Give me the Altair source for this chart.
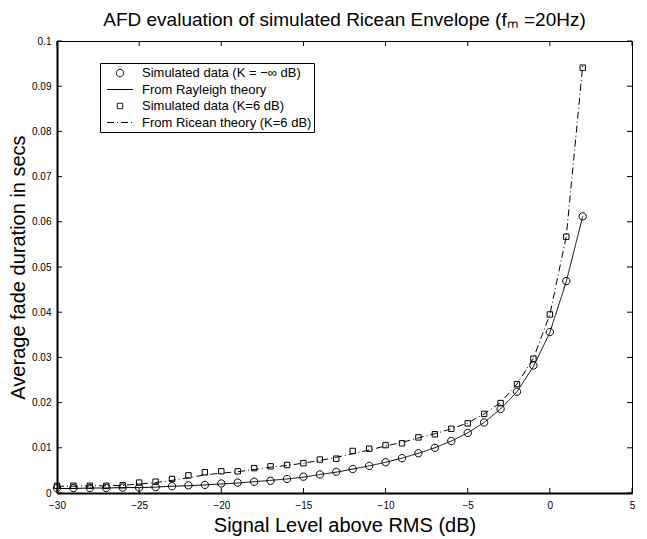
import altair as alt
import pandas as pd

# ---- data ----
levels_db = [-30, -29, -28, -27, -26, -25, -24, -23, -22, -21, -20, -19, -18, -17, -16,
             -15, -14, -13, -12, -11, -10, -9, -8, -7, -6, -5, -4, -3, -2, -1, 0, 1, 2]

sim_rayleigh = [0.0011, 0.0011, 0.0011, 0.0011, 0.0012, 0.0012, 0.0013, 0.0015, 0.0017, 0.0018,
                0.0021, 0.0023, 0.0025, 0.0027, 0.0031, 0.0036, 0.0041, 0.0047, 0.0053, 0.0060,
                0.0068, 0.0077, 0.0088, 0.0100, 0.0115, 0.0133, 0.0156, 0.0186, 0.0224, 0.0282,
                0.0356, 0.0469, 0.0612]

theory_rayleigh = [0.0010, 0.0010, 0.0011, 0.0011, 0.0012, 0.0012, 0.0013, 0.0015, 0.0016, 0.0018,
                   0.0020, 0.0022, 0.0025, 0.0028, 0.0031, 0.0035, 0.0041, 0.0046, 0.0053, 0.0060,
                   0.0068, 0.0077, 0.0088, 0.0100, 0.0115, 0.0133, 0.0156, 0.0186, 0.0224, 0.0280,
                   0.0355, 0.0468, 0.0612]

sim_ricean = [0.0016, 0.0016, 0.0016, 0.0016, 0.0017, 0.0023, 0.0025, 0.0031, 0.0039, 0.0046,
              0.0048, 0.0048, 0.0055, 0.0059, 0.0062, 0.0066, 0.0074, 0.0076, 0.0093, 0.0098,
              0.0106, 0.0110, 0.0123, 0.0130, 0.0142, 0.0154, 0.0175, 0.0199, 0.0241, 0.0297,
              0.0395, 0.0567, 0.0941]

theory_ricean = [0.0015, 0.0015, 0.0016, 0.0016, 0.0017, 0.0020, 0.0023, 0.0028, 0.0034, 0.0040,
                 0.0044, 0.0047, 0.0052, 0.0057, 0.0061, 0.0066, 0.0072, 0.0079, 0.0087, 0.0095,
                 0.0104, 0.0112, 0.0122, 0.0131, 0.0142, 0.0155, 0.0175, 0.0200, 0.0241, 0.0298,
                 0.0395, 0.0568, 0.0945]

series_names = ["Simulated data (K = \u2212\u221e dB)",
                "From Rayleigh theory",
                "Simulated data (K=6 dB)",
                "From Ricean theory (K=6 dB)"]

x_ticks = [-30, -25, -20, -15, -10, -5, 0, 5]
y_ticks = [0, 0.01, 0.02, 0.03, 0.04, 0.05, 0.06, 0.07, 0.08, 0.09, 0.1]

# ---- tables ----
def frame(values, name):
    return pd.DataFrame({"level": levels_db, "afd": values, "series": name})

pts = pd.concat([frame(sim_rayleigh, series_names[0]), frame(sim_ricean, series_names[2])])
lines = pd.concat([frame(theory_rayleigh, series_names[1]), frame(theory_ricean, series_names[3])])
xt = pd.DataFrame({"level": x_ticks})
yt = pd.DataFrame({"afd": y_ticks})

W, H = 575, 452
FONT = "Liberation Sans"
SYM = 225  # symbol size shared by points and legend (unit = 7.5 px)

CIRCLE = "M-0.49,0A0.49,0.49 0 1,0 0.49,0A0.49,0.49 0 1,0 -0.49,0Z"
SQUARE = "M-0.36,-0.36H0.36V0.36H-0.36Z"
LINE = "M-1.73,0H1.73"

xs = alt.Scale(domain=[-30, 5], nice=False, zero=False)
ys = alt.Scale(domain=[0, 0.1], nice=False)

legend = alt.Legend(
    title=None, orient="none", legendX=43, legendY=22,
    fillColor="white", strokeColor="black", padding=2,
    labelFont=FONT, labelFontSize=13, labelColor="black", labelLimit=400,
    rowPadding=1.5, labelOffset=14, symbolOffset=10, symbolSize=SYM,
    symbolStrokeColor="black", symbolStrokeWidth=1, symbolFillColor="transparent",
)

shape_enc = alt.Shape("series:N", scale=alt.Scale(
    domain=series_names, range=[CIRCLE, LINE, SQUARE, LINE]), legend=legend)
dash_enc = alt.StrokeDash("series:N", scale=alt.Scale(
    domain=series_names, range=[[1, 0], [1, 0], [1, 0], [7, 3, 1, 3]]), legend=legend)

ax_x = alt.Axis(values=x_ticks, format="~g", ticks=False, domain=True,
                domainWidth=2, domainColor="black", labelPadding=7, grid=False,
                labelFlush=False,
                title="Signal Level above RMS (dB)", titleFontSize=20,
                titleFontWeight="normal", titleX=W / 2, titleY=32,
                titleBaseline="middle", titleAlign="center")
ax_y = alt.Axis(values=y_ticks, format="~g", ticks=False, domain=True,
                domainWidth=2, domainColor="black", labelPadding=6, grid=False,
                labelFlush=False,
                title="Average fade duration in secs", titleFontSize=20,
                titleFontWeight="normal", titleX=-39, titleY=H / 2,
                titleAngle=270, titleBaseline="middle", titleAlign="center")

X = alt.X("level:Q", scale=xs, axis=ax_x)
Y = alt.Y("afd:Q", scale=ys, axis=ax_y)

theory = alt.Chart(lines).mark_line(color="black", strokeWidth=1, clip=True).encode(
    x=X, y=Y,
    strokeDash=dash_enc,
    detail="series:N",
    order="level:Q",
)

points = alt.Chart(pts).mark_point(
    filled=False, color="black", strokeWidth=1, opacity=1, size=SYM
).encode(
    x=X, y=Y,
    shape=shape_enc,
)

# inward tick marks on all four sides (MATLAB style)
tick_bottom = alt.Chart(xt).mark_rule(color="black", strokeWidth=1).encode(
    x=X, y=alt.value(H), y2=alt.value(H - 5))
tick_top = alt.Chart(xt).mark_rule(color="black", strokeWidth=1).encode(
    x=X, y=alt.value(0), y2=alt.value(5))
tick_left = alt.Chart(yt).mark_rule(color="black", strokeWidth=1).encode(
    y=Y, x=alt.value(0), x2=alt.value(5))
tick_right = alt.Chart(yt).mark_rule(color="black", strokeWidth=1).encode(
    y=Y, x=alt.value(W), x2=alt.value(W - 5))

chart = alt.layer(
    theory, points, tick_bottom, tick_top, tick_left, tick_right
).properties(
    width=W, height=H,
    padding={"left": 49, "top": 33, "right": 6, "bottom": 46},
    autosize="none",
    title=alt.TitleParams(
        "AFD evaluation of simulated Ricean Envelope (f\u2098 =20Hz)",
        fontSize=19, fontWeight="normal", font=FONT, color="black",
        anchor="middle", offset=6,
    ),
).configure(
    font=FONT,
).configure_view(
    stroke="black", strokeWidth=1,
).configure_axis(
    labelFont=FONT, labelFontSize=10, labelColor="black",
    titleFont=FONT, titleColor="black",
)

chart.save("out.html", embed_options={"renderer": "svg", "actions": False})
